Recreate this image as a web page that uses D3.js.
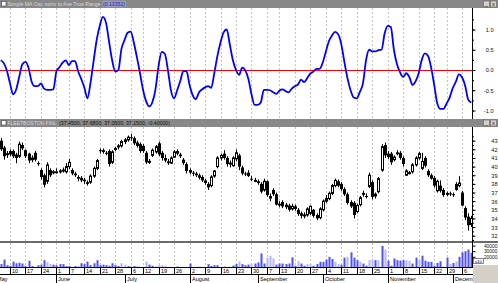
<!DOCTYPE html>
<html>
<head>
<meta charset="utf-8">
<script src="https://cdn.jsdelivr.net/npm/d3@7"></script>
<style>
body { margin: 0; background: #fff; overflow: hidden; }
svg { display: block; }
text { font-family: "Liberation Sans", Arial, sans-serif; }
</style>
</head>
<body>
<script>
/**
 * Layout constants
 */
const WIDTH = 498;
const HEIGHT = 283;
const PLOT_RIGHT = 472;       // right axis line
const DAY_STEP = 3.096;       // px per trading day
const FIRST_X = 0.71;         // x of first data day
const FONT = 5.6;             // small label size

/**
 * Data (1999, FleetBoston daily)
 */
const HOLIDAYS = ["1999-05-31", "1999-07-05", "1999-09-06", "1999-11-25"];
const CAL_START = [1999, 4, 3];   // calendar starts Mon May 3 (for the month label)
const CAL_END = [1999, 11, 9];
const DATA_OFFSET = 2;            // data starts Wed May 5

const oscTitle = "Simple MA Osc norm to Ave True Range";
const oscLast = "(0.13352)";
const stockTitle = "FLEETBOSTON FINL";
const stockLast = "(37.4500, 37.6800, 37.0500, 37.1500, -0.40000)";

const oscTicks = [-1, -0.5, 0, 0.5, 1];
const priceTicks = [32, 33, 34, 35, 36, 37, 38, 39, 40, 41, 42, 43];
const volTicks = [20000, 30000, 40000];
const monthNames = ["January", "February", "March", "April", "May", "June", "July",
    "August", "September", "October", "November", "December"];

const osc = [0.24, 0.17, -0.02, -0.33, -0.6, -0.48, -0.16, 0.14, 0.2, 0.05,
    -0.29, -0.4, -0.4, -0.33, -0.46, -0.49, -0.49, -0.48, -0.03, 0.07,
    0.18, 0.24, 0.12, 0.22, 0.22, -0.03, -0.22, -0.43, -0.7, -0.32,
    0.22, 0.74, 1.09, 1.31, 1.17, 0.7, 0.24, -0.04, 0.0, 0.52,
    0.74, 0.92, 0.95, 0.68, 0.31, -0.08, -0.5, -0.78, -0.9, -0.79,
    -0.47, 0.11, 0.45, 0.4, 0.0, -0.51, -0.7, -0.5, -0.27, -0.03,
    -0.03, -0.37, -0.62, -0.72, -0.56, -0.48, -0.43, -0.4, -0.44, -0.07,
    0.35, 0.68, 0.93, 1.0, 0.63, 0.24, 0.0, -0.12, 0.06, -0.01,
    -0.22, -0.6, -0.86, -0.86, -0.8, -0.49, -0.49, -0.5, -0.55, -0.59,
    -0.51, -0.48, -0.52, -0.55, -0.46, -0.4, -0.36, -0.24, -0.3, -0.2,
    -0.09, -0.04, 0.03, 0.03, 0.18, 0.45, 0.71, 0.85, 0.94, 0.88,
    0.64, 0.2, -0.2, -0.5, -0.68, -0.7, -0.54, -0.33, 0.24, 0.5,
    0.46, 0.46, 0.49, 0.5, 0.9, 1.09, 1.06, 0.5, 0.14, -0.06,
    -0.17, -0.08, -0.18, -0.37, -0.28, -0.08, 0.25, 0.41, 0.35, 0.07,
    -0.36, -0.82, -0.96, -0.96, -0.83, -0.68, -0.45, -0.29, -0.11, -0.18,
    -0.38, -0.73, -0.8];

// [open, high, low, close]
const candles = [
    [43.0, 43.3, 41.8, 42.0], [42.2, 42.4, 40.8, 41.2], [41.4, 41.8, 41.0, 41.5], [41.8, 42.0, 41.2, 41.4],
    [41.8, 42.0, 41.0, 41.2], [41.4, 41.6, 40.4, 41.0], [41.2, 42.9, 41.0, 42.6], [42.5, 42.8, 41.9, 42.1],
    [41.9, 42.0, 41.0, 41.2], [41.5, 41.6, 40.4, 40.7], [40.8, 41.3, 40.5, 41.0], [41.6, 41.8, 40.6, 40.8],
    [40.4, 40.6, 40.1, 40.3], [39.6, 39.8, 38.5, 38.8], [39.0, 39.2, 37.6, 37.9], [38.3, 40.5, 38.0, 40.2],
    [39.6, 39.8, 38.8, 39.0], [39.3, 39.6, 39.1, 39.4], [39.4, 39.8, 39.2, 39.4], [39.4, 39.7, 39.2, 39.5],
    [39.5, 39.9, 39.3, 39.6], [39.4, 40.4, 39.2, 40.0], [40.0, 40.9, 39.7, 40.5], [39.6, 39.8, 39.0, 39.2],
    [39.2, 39.4, 38.8, 39.0], [38.8, 39.0, 38.3, 38.6], [38.7, 38.9, 38.2, 38.4], [38.5, 38.7, 38.0, 38.3],
    [38.2, 38.4, 37.8, 38.0], [38.2, 39.1, 38.0, 38.9], [38.9, 40.0, 38.7, 39.8], [39.8, 40.9, 39.6, 40.7],
    [41.9, 42.1, 41.5, 41.8], [41.9, 42.1, 41.5, 41.7], [41.6, 41.8, 41.3, 41.5], [41.8, 42.0, 40.0, 40.3],
    [40.5, 41.9, 40.3, 41.7], [42.0, 42.3, 41.8, 42.1], [42.3, 42.6, 42.0, 42.4], [42.4, 43.1, 42.2, 42.9],
    [42.9, 43.3, 42.6, 43.1], [43.1, 43.6, 42.9, 43.4], [43.4, 43.8, 43.0, 43.3], [43.3, 43.5, 42.5, 42.7],
    [42.8, 43.0, 42.2, 42.4], [42.6, 42.8, 41.6, 41.8], [42.4, 42.6, 41.6, 41.8], [41.6, 41.8, 40.3, 40.5],
    [40.6, 40.9, 40.3, 40.6], [41.3, 42.1, 41.1, 41.9], [41.7, 42.5, 41.5, 42.3], [42.7, 42.9, 41.2, 41.4],
    [41.6, 41.8, 40.7, 41.0], [41.0, 41.4, 40.5, 40.7], [40.6, 40.9, 40.2, 40.4], [40.4, 41.2, 40.3, 41.0],
    [41.1, 41.9, 41.0, 41.7], [41.8, 42.0, 41.3, 41.5], [41.4, 41.6, 41.0, 41.2], [40.8, 41.0, 40.2, 40.4],
    [40.3, 40.5, 39.2, 39.5], [39.6, 39.8, 39.1, 39.3], [39.3, 39.5, 38.9, 39.2], [39.2, 39.4, 38.8, 39.0],
    [39.0, 39.2, 38.5, 38.7], [38.8, 39.0, 38.2, 38.4], [38.4, 38.6, 37.9, 38.1], [38.0, 38.2, 37.3, 37.6],
    [37.8, 39.0, 37.6, 38.8], [38.9, 39.6, 38.7, 39.5], [40.0, 41.2, 39.8, 41.0], [41.0, 41.5, 40.7, 41.3],
    [41.5, 41.9, 40.8, 41.0], [41.0, 41.2, 40.0, 40.3], [40.3, 40.7, 39.9, 40.4], [40.1, 41.2, 40.0, 41.0],
    [40.9, 42.0, 40.6, 41.6], [41.3, 41.5, 39.6, 40.0], [39.9, 40.1, 39.0, 39.2], [39.2, 39.4, 38.9, 39.1],
    [39.3, 39.6, 38.8, 38.9], [38.6, 38.9, 38.3, 38.5], [38.4, 38.7, 38.2, 38.4], [38.3, 38.5, 37.9, 38.1],
    [38.0, 38.2, 36.9, 37.1], [37.3, 38.6, 37.1, 38.3], [38.3, 38.4, 36.5, 36.7], [36.6, 36.9, 36.0, 36.3],
    [37.3, 37.5, 36.6, 36.8], [36.8, 37.0, 35.5, 35.6], [35.7, 36.0, 35.3, 35.5], [35.9, 36.1, 35.2, 35.4],
    [35.6, 35.8, 35.1, 35.3], [35.5, 35.7, 34.8, 35.0], [35.1, 35.7, 34.9, 35.4], [35.4, 35.6, 34.9, 35.1],
    [35.0, 35.2, 34.3, 34.5], [34.6, 34.8, 34.0, 34.3], [34.3, 34.7, 34.0, 34.4], [34.4, 35.3, 34.2, 35.1],
    [34.6, 35.5, 34.4, 35.4], [35.0, 35.1, 34.1, 34.3], [34.4, 34.6, 33.8, 34.0], [34.1, 35.3, 33.9, 35.1],
    [35.0, 36.2, 34.8, 36.0], [36.0, 36.7, 35.8, 36.3], [36.3, 37.1, 36.1, 36.9], [36.9, 38.0, 36.7, 37.8],
    [37.8, 38.6, 37.6, 38.4], [38.3, 38.5, 37.6, 37.8], [38.0, 38.2, 37.2, 37.4], [37.4, 37.6, 36.6, 36.8],
    [36.8, 37.0, 35.6, 35.8], [35.9, 36.1, 35.2, 35.4], [35.8, 36.0, 34.0, 34.4], [34.8, 35.7, 34.6, 35.5],
    [35.6, 36.6, 35.4, 36.4], [36.8, 37.2, 36.5, 36.9], [36.6, 36.9, 36.3, 36.5], [37.7, 39.3, 37.5, 39.0],
    [38.2, 38.4, 36.2, 36.5], [36.6, 37.0, 36.3, 36.8], [37.1, 38.8, 36.9, 38.6], [39.6, 42.6, 39.4, 42.3],
    [42.5, 42.8, 41.0, 41.3], [41.5, 41.8, 40.9, 41.1], [41.5, 41.7, 40.2, 40.5], [40.8, 41.3, 40.6, 41.1],
    [41.5, 41.9, 41.3, 41.6], [41.6, 41.8, 40.8, 41.0], [41.0, 41.2, 40.0, 40.3], [39.0, 39.7, 38.9, 39.5],
    [39.3, 39.5, 39.1, 39.3], [39.4, 40.4, 39.2, 40.2], [40.2, 41.2, 40.0, 41.0], [41.0, 41.7, 40.8, 41.5],
    [39.8, 41.6, 39.6, 40.6], [41.0, 41.2, 39.9, 40.1], [39.5, 39.7, 38.8, 39.0], [39.0, 39.2, 38.5, 38.6],
    [38.7, 38.9, 37.6, 37.8], [37.2, 38.5, 37.0, 38.3], [37.8, 38.4, 37.0, 37.2], [37.3, 37.5, 36.5, 36.7],
    [36.8, 37.1, 36.6, 36.9], [36.9, 37.1, 36.6, 36.8], [36.8, 37.0, 36.5, 36.7], [38.0, 38.2, 37.2, 37.3],
    [37.8, 38.9, 37.6, 38.1], [37.0, 37.2, 35.4, 35.5], [35.2, 35.4, 33.8, 34.1], [34.2, 34.6, 32.6, 33.2],
    [33.3, 34.3, 33.0, 34.0]
];

const volume = [7000, 15000, 5000, 4000, 11500, 8500, 9500, 8000, 3500, 13000,
    3500, 2000, 5000, 6000, 14000, 10500, 7000, 6000, 5000, 7000,
    7000, 3500, 3500, 2000, 3500, 2500, 8500, 7000, 11500, 5000,
    8500, 14000, 5000, 6000, 5000, 4000, 8500, 5000, 3500, 8500,
    6000, 3500, 2500, 3500, 2500, 1500, 1500, 11500, 6000, 4000,
    2500, 5000, 5000, 2500, 1000, 1500, 1500, 2500, 1000, 1500,
    1000, 8000, 2000, 2000, 2000, 1000, 1000, 7000, 3500, 5000,
    5000, 1000, 2500, 1000, 1000, 4500, 7000, 11500, 7000, 5000,
    6000, 8000, 8000, 10000, 26000, 8000, 18500, 22000, 17000, 6000,
    8000, 8000, 7000, 8000, 19000, 4000, 12000, 8000, 4000, 7000,
    7000, 4000, 7000, 11000, 11000, 15000, 20000, 16000, 11000, 7000,
    6000, 18500, 20000, 28000, 18500, 14000, 11000, 8000, 4000, 14000,
    15000, 14000, 14000, 39500, 32500, 13000, 4000, 17000, 14000, 13000,
    14000, 14000, 13000, 8000, 18500, 14000, 22000, 13000, 11000, 11000,
    4000, 9000, 12000, 2000, 18500, 7000, 9000, 12000, 20000, 28000,
    30000, 33000, 27000];

// days whose volume bar is drawn in the light shade
const lightVolDays = [15, 16, 39, 40, 47, 51, 52, 77, 81, 86, 87, 88, 96, 99, 100, 108, 109,
    112, 116, 119, 120, 122, 124, 131, 132, 135, 145, 147];

/**
 * Panels (top, bottom in px)
 */
const OSC_PANEL = [8, 119];
const PRICE_PANEL = [127, 241];
const VOL_PANEL = [243, 267];

const svg = initializeCanvas(WIDTH, HEIGHT, "white");

const x = d3.scaleLinear()
    .domain([0, candles.length - 1])
    .range([FIRST_X, FIRST_X + (candles.length - 1) * DAY_STEP]);
const yOsc = d3.scaleLinear().domain([-1, 1]).range([110.5, 29.5]);
const yPrice = d3.scaleLinear().domain([32, 43]).range([235.7, 140.7]);
const yVol = d3.scaleLinear().domain([0, 40000]).range([268, 245.6]);

function tradingDays() {
    const out = [];
    const d = new Date(Date.UTC(...CAL_START));
    const end = Date.UTC(...CAL_END);
    while (d.getTime() <= end) {
        const dow = d.getUTCDay();
        const iso = d.toISOString().slice(0, 10);
        if (dow > 0 && dow < 6 && !HOLIDAYS.includes(iso)) out.push(new Date(d));
        d.setUTCDate(d.getUTCDate() + 1);
    }
    return out;
}

const days = tradingDays();
// week ticks: first trading day of each week; month ticks: first trading day of each month
const weekTicks = [];
const monthTicks = [];
days.forEach((d, c) => {
    const prev = days[c - 1];
    if (!prev || d.getUTCDay() < prev.getUTCDay() || (d - prev) > 4 * 864e5)
        weekTicks.push({ i: c - DATA_OFFSET, label: d.getUTCDate() });
    if (!prev || d.getUTCMonth() !== prev.getUTCMonth())
        monthTicks.push({ i: c - DATA_OFFSET, label: monthNames[d.getUTCMonth()] });
});
const cx = i => Math.round(x(i));

function clipFor(id, top, bottom) {
    svg.append("clipPath").attr("id", id)
        .append("rect").attr("x", 0).attr("y", top)
        .attr("width", PLOT_RIGHT).attr("height", bottom - top);
    return "url(#" + id + ")";
}

function drawGrid(top, bottom) {
    svg.append("g")
        .selectAll("line")
        .data(weekTicks.filter(d => x(d.i) > 0))
        .join("line")
        .attr("x1", d => cx(d.i) + 0.5)
        .attr("x2", d => cx(d.i) + 0.5)
        .attr("y1", top)
        .attr("y2", bottom)
        .attr("stroke", "#c4c4c4")
        .attr("stroke-dasharray", "2,2");
}

function drawTitleBar(y, name, nameLen, value, valueLen, valueColor, highlight) {
    const g = svg.append("g");
    g.append("rect").attr("x", 0).attr("y", y).attr("width", WIDTH).attr("height", 8)
        .attr("fill", "#888888");
    g.append("rect").attr("x", 1.5).attr("y", y + 1.5).attr("width", 4.5).attr("height", 4.5)
        .attr("fill", "#fff").attr("stroke", "#444").attr("stroke-width", 0.6);
    g.append("text").attr("x", 7.5).attr("y", y + 6.2)
        .attr("font-size", 5.4).attr("fill", "#dadada")
        .attr("textLength", nameLen).attr("lengthAdjust", "spacingAndGlyphs")
        .text(name);
    const vx = 7.5 + nameLen + 2.5;
    if (highlight) {
        g.append("rect").attr("x", vx - 0.5).attr("y", y + 0.8).attr("width", valueLen + 1.5)
            .attr("height", 6.4).attr("fill", "#9c9cb4");
    }
    g.append("text").attr("x", vx).attr("y", y + 6.2)
        .attr("font-size", 5.4).attr("fill", valueColor)
        .attr("textLength", valueLen).attr("lengthAdjust", "spacingAndGlyphs")
        .text(value);
    // window buttons
    [483.5, 490.5].forEach((bx, k) => {
        g.append("rect").attr("x", bx).attr("y", y + 1).attr("width", 6).attr("height", 6)
            .attr("fill", "#d4d0c8").attr("stroke", "#555").attr("stroke-width", 0.5);
        g.append("text").attr("x", bx + 3).attr("y", y + 5.8).attr("text-anchor", "middle")
            .attr("font-size", 5).attr("fill", "#000").text(k === 0 ? "_" : "x");
    });
}

function drawRightAxis(scale, ticks, fmt, labelRight, minor, size) {
    const g = svg.append("g").attr("transform", "translate(" + (PLOT_RIGHT + 0.5) + ",0)");
    if (minor) {
        g.append("g").call(d3.axisRight(scale).tickValues(minor).tickSize(1.5).tickFormat(""))
            .call(a => a.select(".domain").remove());
    }
    g.append("g")
        .call(d3.axisRight(scale).tickValues(ticks).tickSize(3).tickFormat(fmt))
        .call(a => a.select(".domain").remove())
        .call(a => a.selectAll("text")
            .attr("x", labelRight - PLOT_RIGHT)
            .attr("dy", "0.35em")
            .attr("text-anchor", "end")
            .attr("font-size", size || FONT)
            .attr("font-family", "Liberation Sans, Arial, sans-serif")
            .attr("fill", "#111"));
}

function main() {
    // Oscillator panel
    drawGrid(OSC_PANEL[0], OSC_PANEL[1]);
    svg.append("line")
        .attr("x1", 0).attr("x2", PLOT_RIGHT)
        .attr("y1", Math.round(yOsc(0)) + 0.5).attr("y2", Math.round(yOsc(0)) + 0.5)
        .attr("stroke", "#ff0000").attr("stroke-width", 1);
    svg.append("path")
        .datum(osc)
        .attr("clip-path", clipFor("clipOsc", OSC_PANEL[0], OSC_PANEL[1]))
        .attr("fill", "none")
        .attr("stroke", "#0000ff")
        .attr("stroke-width", 1.8)
        .attr("stroke-linejoin", "round")
        .attr("d", d3.line().x((d, i) => x(i)).y(d => yOsc(d)).curve(d3.curveMonotoneX));
    drawRightAxis(yOsc, oscTicks, d => d.toFixed(1), 493, d3.range(-1.25, 1.5, 0.25));

    // Price panel
    drawGrid(PRICE_PANEL[0], PRICE_PANEL[1]);
    const pg = svg.append("g").attr("clip-path", clipFor("clipPrice", PRICE_PANEL[0], PRICE_PANEL[1]));
    pg.selectAll(".wick")
        .data(candles)
        .join("line")
        .attr("x1", (d, i) => cx(i) + 0.5)
        .attr("x2", (d, i) => cx(i) + 0.5)
        .attr("y1", d => yPrice(d[1]))
        .attr("y2", d => yPrice(d[2]))
        .attr("stroke", "#000")
        .attr("stroke-width", 1);
    pg.selectAll(".body")
        .data(candles)
        .join("rect")
        .attr("x", (d, i) => d[3] >= d[0] ? cx(i) - 0.5 : cx(i) - 1)
        .attr("width", d => d[3] >= d[0] ? 2 : 3)
        .attr("y", d => yPrice(Math.max(d[0], d[3])))
        .attr("height", d => Math.max(1, Math.abs(yPrice(d[0]) - yPrice(d[3]))))
        .attr("fill", d => d[3] >= d[0] ? "#fff" : "#000")
        .attr("stroke", d => d[3] >= d[0] ? "#000" : "none")
        .attr("stroke-width", 1);
    drawRightAxis(yPrice, priceTicks, d => String(d), 497, d3.range(31.5, 44, 0.5));

    // Separator between price and volume
    svg.append("rect").attr("x", 0).attr("y", 241).attr("width", WIDTH).attr("height", 2)
        .attr("fill", "#6a6a6a");

    // Volume panel
    drawGrid(VOL_PANEL[0], VOL_PANEL[1]);
    svg.append("g")
        .attr("clip-path", clipFor("clipVol", VOL_PANEL[0], VOL_PANEL[1]))
        .selectAll("rect")
        .data(volume)
        .join("rect")
        .attr("x", (d, i) => cx(i) - 0.5)
        .attr("width", 2)
        .attr("y", d => yVol(d))
        .attr("height", d => yVol(0) - yVol(d))
        .attr("fill", (d, i) => lightVolDays.includes(i) ? "#b4b4fa" : "#5252f0");
    drawRightAxis(yVol, volTicks, d => String(d), 497, null, 4.9);

    // Right axis line over all panels
    svg.append("line")
        .attr("x1", PLOT_RIGHT + 0.5).attr("x2", PLOT_RIGHT + 0.5)
        .attr("y1", 8).attr("y2", 267)
        .attr("stroke", "#000");

    drawTitleBar(0, oscTitle, 93, oscLast, 22, "#1818d8", true);
    drawTitleBar(119, stockTitle, 49, stockLast, 111, "#101010", false);

    // Volume multiplier box
    svg.append("rect").attr("x", 473.5).attr("y", 258.5).attr("width", 10).attr("height", 5)
        .attr("fill", "#fff").attr("stroke", "#333").attr("stroke-width", 0.6);
    svg.append("text").attr("x", 478.5).attr("y", 262.8).attr("text-anchor", "middle")
        .attr("font-size", 4.2).attr("fill", "#000").text("x10");

    // Date axis
    const axisG = svg.append("g");
    axisG.append("rect").attr("x", 0).attr("y", 267).attr("width", PLOT_RIGHT + 1).attr("height", 16)
        .attr("fill", "#fff");
    axisG.append("line").attr("x1", 0).attr("x2", PLOT_RIGHT + 1).attr("y1", 267.5).attr("y2", 267.5)
        .attr("stroke", "#000");
    axisG.append("line").attr("x1", 0).attr("x2", PLOT_RIGHT + 1).attr("y1", 274.5).attr("y2", 274.5)
        .attr("stroke", "#000");
    const visWeeks = weekTicks.filter(d => x(d.i) > 0);
    axisG.selectAll(".wk")
        .data(visWeeks)
        .join("line")
        .attr("x1", d => cx(d.i) + 0.5).attr("x2", d => cx(d.i) + 0.5)
        .attr("y1", 267.5).attr("y2", 274.5)
        .attr("stroke", "#000");
    axisG.selectAll(".wkl")
        .data(visWeeks)
        .join("text")
        .attr("x", d => cx(d.i) + 2)
        .attr("y", 273.4)
        .attr("font-size", FONT)
        .attr("fill", "#000")
        .text(d => d.label);
    axisG.selectAll(".mo")
        .data(monthTicks)
        .join("line")
        .attr("x1", d => cx(d.i) + 0.5).attr("x2", d => cx(d.i) + 0.5)
        .attr("y1", 274.5).attr("y2", 283)
        .attr("stroke", "#000");
    axisG.selectAll(".mol")
        .data(monthTicks)
        .join("text")
        .attr("x", d => cx(d.i) + 2)
        .attr("y", 281.2)
        .attr("font-size", FONT)
        .attr("fill", "#000")
        .text(d => d.label);
    svg.append("rect").attr("x", PLOT_RIGHT + 1).attr("y", 265).attr("width", WIDTH - PLOT_RIGHT - 1)
        .attr("height", 18).attr("fill", "#d4d0c8");
}

/**
 * Returns an SVG Element of size w x h and filled with color
 */
function initializeCanvas(w, h, color) {
    const svgSpace = d3.select("body")
        .append("svg")
        .attr("width", w)
        .attr("height", h);
    if (color != null) {
        svgSpace.append("rect")
            .attr("width", "100%")
            .attr("height", "100%")
            .attr("fill", color);
    }
    return svgSpace;
}

main()
</script>
</body>
</html>
